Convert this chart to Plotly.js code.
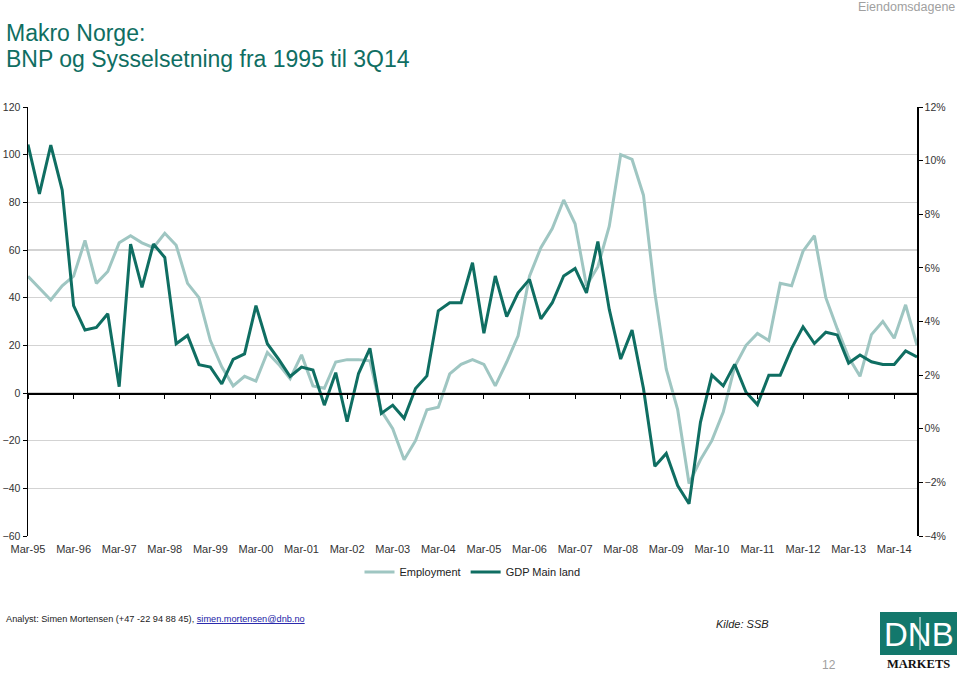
<!DOCTYPE html>
<html>
<head>
<meta charset="utf-8">
<script src="https://cdn.plot.ly/plotly-3.0.1.min.js"></script>
<style>
  html, body { margin: 0; padding: 0; background: #ffffff; }
  #chart { width: 960px; height: 673px; }
</style>
</head>
<body>
<div id="chart"></div>
<script>
// ---- Data ----
const quarters = [
  "Mar-95","Jun-95","Sep-95","Dec-95","Mar-96","Jun-96","Sep-96","Dec-96",
  "Mar-97","Jun-97","Sep-97","Dec-97","Mar-98","Jun-98","Sep-98","Dec-98",
  "Mar-99","Jun-99","Sep-99","Dec-99","Mar-00","Jun-00","Sep-00","Dec-00",
  "Mar-01","Jun-01","Sep-01","Dec-01","Mar-02","Jun-02","Sep-02","Dec-02",
  "Mar-03","Jun-03","Sep-03","Dec-03","Mar-04","Jun-04","Sep-04","Dec-04",
  "Mar-05","Jun-05","Sep-05","Dec-05","Mar-06","Jun-06","Sep-06","Dec-06",
  "Mar-07","Jun-07","Sep-07","Dec-07","Mar-08","Jun-08","Sep-08","Dec-08",
  "Mar-09","Jun-09","Sep-09","Dec-09","Mar-10","Jun-10","Sep-10","Dec-10",
  "Mar-11","Jun-11","Sep-11","Dec-11","Mar-12","Jun-12","Sep-12","Dec-12",
  "Mar-13","Jun-13","Sep-13","Dec-13","Mar-14","Jun-14","Sep-14"
];

// Employment (left axis)
const employment = [
  49, 44, 39, 45, 49, 64, 46, 51,
  63, 66, 63, 61, 67, 62, 46, 40,
  22, 11, 3, 7, 5, 17, 12, 6,
  16, 3, 2, 13, 14, 14, 13.5, -7.5,
  -15, -28, -20, -7, -6, 8, 12, 14,
  12, 3, 13, 24, 49, 61, 69, 81,
  71, 45, 53, 70, 100, 98, 83, 42,
  10, -7, -38, -28, -20, -8, 11, 20,
  25, 22, 46, 45, 59.5, 66, 40, 27,
  15, 7, 24.5, 30, 23, 37, 20
];

// GDP Main land (right axis, %)
const gdpMainland = [
  10.6, 8.76, 10.58, 8.9, 4.59, 3.68, 3.78, 4.29,
  1.57, 6.89, 5.27, 6.89, 6.39, 3.17, 3.48, 2.39,
  2.30, 1.67, 2.59, 2.79, 4.59, 3.17, 2.59, 1.95,
  2.30, 2.19, 0.88, 2.09, 0.26, 2.06, 3.0, 0.57,
  0.88, 0.39, 1.5, 1.97, 4.4, 4.7, 4.7, 6.19,
  3.56, 5.7, 4.18, 5.07, 5.57, 4.1, 4.7, 5.7,
  5.98, 5.07, 6.98, 4.45, 2.6, 3.68, 1.5, -1.4,
  -0.92, -2.12, -2.8, 0.24, 2.0, 1.6, 2.4, 1.36,
  0.9, 2.0, 2.0, 3.0, 3.8, 3.18, 3.6, 3.5,
  2.45, 2.75, 2.5, 2.4, 2.4, 2.9, 2.68
];

const seriesNames = ["Employment", "GDP Main land"];
const marchLabels = quarters.filter(q => q.startsWith("Mar"));

// ---- Styling ----
const SANS = '"Liberation Sans", Arial, sans-serif';
const TEAL = '#0f6e62';
const LIGHT = '#9fc6c2';

// plot area in pixels
const PL = 28, PR = 917, PT = 107, PB = 536;
const fx = px => (px - PL) / (PR - PL);
const fy = py => (PB - py) / (PB - PT);

const traces = [
  {
    name: seriesNames[0], x: quarters, y: employment,
    type: 'scatter', mode: 'lines', xaxis: 'x', yaxis: 'y',
    line: { color: LIGHT, width: 3 }, hoverinfo: 'x+y'
  },
  {
    name: seriesNames[1], x: quarters, y: gdpMainland,
    type: 'scatter', mode: 'lines', xaxis: 'x2', yaxis: 'y2',
    line: { color: TEAL, width: 3 }, hoverinfo: 'x+y'
  }
];

const layout = {
  width: 960, height: 673,
  paper_bgcolor: '#ffffff', plot_bgcolor: 'rgba(0,0,0,0)',
  margin: { l: PL, r: 960 - PR, t: PT, b: 673 - PB, pad: 0 },
  showlegend: true,
  legend: {
    orientation: 'h', x: 0.5, xanchor: 'center', y: fy(572), yanchor: 'middle',
    font: { family: SANS, size: 11, color: '#222' },
    itemwidth: 30, tracegroupgap: 0, bgcolor: 'rgba(0,0,0,0)'
  },
  // zero line axis with tick marks
  xaxis: {
    type: 'category', categoryorder: 'array', categoryarray: quarters,
    range: [0, quarters.length - 1], anchor: 'free', position: fy(393),
    showline: true, linecolor: '#000', linewidth: 1.5,
    ticks: 'outside', ticklen: 4, tickwidth: 1, tickcolor: '#000',
    tickvals: marchLabels, showticklabels: false, showgrid: false, zeroline: false
  },
  // label axis at the bottom
  xaxis2: {
    type: 'category', categoryorder: 'array', categoryarray: quarters,
    range: [0, quarters.length - 1], overlaying: 'x', anchor: 'free', position: 0,
    showline: false, ticks: '', tickvals: marchLabels, ticktext: marchLabels,
    ticklabelstandoff: 5,
    tickangle: 0, tickfont: { family: SANS, size: 11, color: '#333' },
    showgrid: false, zeroline: false
  },
  yaxis: {
    range: [-60, 120], dtick: 20, tick0: 0, anchor: 'x',
    showgrid: true, gridcolor: '#d3d3d3', gridwidth: 1.2,
    showline: true, linecolor: '#000', linewidth: 1.5,
    ticks: 'outside', ticklen: 4, tickcolor: '#000',
    zeroline: false, tickfont: { family: SANS, size: 10.5, color: '#333' }
  },
  yaxis2: {
    range: [-4, 12], dtick: 2, tick0: 0, overlaying: 'y', side: 'right', anchor: 'x2',
    ticksuffix: '%', showgrid: false, zeroline: false,
    showline: true, linecolor: '#000', linewidth: 1.5,
    ticks: 'outside', ticklen: 4, tickcolor: '#000',
    tickfont: { family: SANS, size: 10.5, color: '#333' }
  },
  shapes: [
    { type: 'rect', xref: 'paper', yref: 'paper',
      x0: fx(880), x1: fx(957), y0: fy(655), y1: fy(612),
      fillcolor: '#13786c', line: { width: 0 } },
    { type: 'line', xref: 'paper', yref: 'paper',
      x0: fx(920), x1: fx(920), y0: fy(650), y1: fy(617),
      line: { color: '#ffffff', width: 1 } }
  ],
  annotations: [
    { text: 'Makro Norge:', xref: 'paper', yref: 'paper', x: fx(4), y: fy(33),
      xanchor: 'left', yanchor: 'middle', showarrow: false,
      font: { family: SANS, size: 23, color: TEAL } },
    { text: 'BNP og Sysselsetning fra 1995 til 3Q14', xref: 'paper', yref: 'paper', x: fx(4), y: fy(59),
      xanchor: 'left', yanchor: 'middle', showarrow: false,
      font: { family: SANS, size: 23, color: TEAL } },
    { text: 'Eiendomsdagene', xref: 'paper', yref: 'paper', x: fx(957), y: fy(7),
      xanchor: 'right', yanchor: 'middle', showarrow: false,
      font: { family: SANS, size: 12.5, color: '#a0a0a0' } },
    { text: 'Analyst: Simen Mortensen (+47 -22 94 88 45), <span style="color:#1a1aa6;text-decoration:underline">simen.mortensen@dnb.no</span>',
      xref: 'paper', yref: 'paper', x: fx(4), y: fy(619),
      xanchor: 'left', yanchor: 'middle', showarrow: false,
      font: { family: SANS, size: 9.2, color: '#222' } },
    { text: '<i>Kilde: SSB</i>', xref: 'paper', yref: 'paper', x: fx(714), y: fy(624),
      xanchor: 'left', yanchor: 'middle', showarrow: false,
      font: { family: SANS, size: 11, color: '#222' } },
    { text: '12', xref: 'paper', yref: 'paper', x: fx(829), y: fy(665),
      xanchor: 'center', yanchor: 'middle', showarrow: false,
      font: { family: SANS, size: 12, color: '#a0a0a0' } },
    { text: 'DNB', xref: 'paper', yref: 'paper', x: fx(918.5), y: fy(634),
      xanchor: 'center', yanchor: 'middle', showarrow: false,
      font: { family: SANS, size: 33, color: '#ffffff' } },
    { text: '<b>MARKETS</b>', xref: 'paper', yref: 'paper', x: fx(918.5), y: fy(664),
      xanchor: 'center', yanchor: 'middle', showarrow: false,
      font: { family: '"Liberation Serif", "Times New Roman", serif', size: 12.5, color: '#111' } }
  ]
};

Plotly.newPlot('chart', traces, layout, { displayModeBar: false, staticPlot: true });
</script>
</body>
</html>
